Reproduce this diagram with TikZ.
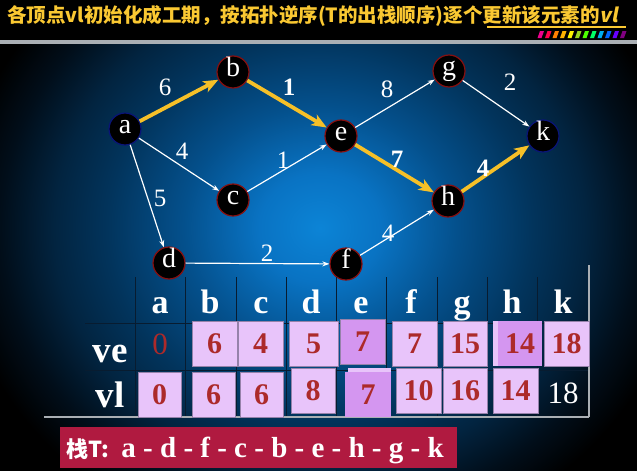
\documentclass[tikz,border=0pt]{standalone}
\usepackage{fontspec}
\setmainfont{Liberation Serif}
\newfontfamily\cjk{Noto Sans CJK SC}
\newfontfamily\cjkslant{Noto Sans CJK SC}[FakeSlant=0.2]
\usetikzlibrary{arrows.meta}
\definecolor{titleyellow}{RGB}{250,200,50}
\definecolor{crityellow}{RGB}{246,192,40}
\definecolor{noderim}{RGB}{135,15,15}
\definecolor{endrim}{RGB}{10,20,120}
\definecolor{cellpink}{RGB}{232,196,250}
\definecolor{cellpurple}{RGB}{212,150,240}
\definecolor{cellrim}{RGB}{150,130,170}
\definecolor{numred}{RGB}{172,42,42}
\definecolor{stackred}{RGB}{176,26,64}
\definecolor{gridline}{RGB}{8,28,48}
\definecolor{rulegray}{RGB}{170,175,180}
\definecolor{bglight}{RGB}{12,132,214}
\definecolor{bgmid}{RGB}{9,115,195}
\definecolor{bgdark}{RGB}{4,80,140}
\definecolor{bgdeep}{RGB}{2,52,92}
\definecolor{bgnavy}{RGB}{2,36,64}
\definecolor{bgedge}{RGB}{1,14,26}
\pgfdeclareradialshading{bgshade}{\pgfpoint{0bp}{0bp}}{color(0bp)=(bglight); color(4bp)=(bgmid); color(9bp)=(bgdark); color(14bp)=(bgdeep); color(17.5bp)=(bgnavy); color(21bp)=(bgedge); color(24bp)=(black); color(50bp)=(black)}
\begin{document}
\begin{tikzpicture}[x=1pt,y=-1pt]
  \useasboundingbox (0,0) rectangle (637,471);
  % background
  \fill[black] (0,0) rectangle (637,471);
  \begin{scope}
    \clip (0,44) rectangle (637,471);
    \shade[shading=bgshade] (320,228) ellipse (380 and 340);
  \end{scope}
  \fill[rulegray] (0,40) rectangle (637,44);
  \foreach \c [count=\i] in {magenta,red!70!magenta,orange,orange!60!yellow,yellow,yellow!60!green,green!70!yellow,green!60!cyan,cyan,blue!60!cyan,blue!60!magenta,violet}
    \fill[\c] ({530+\i*7.5},38) -- ++(2.5,-7) -- ++(4,0) -- ++(-2.5,7) -- cycle;

  % title
  \node[anchor=west, inner sep=0pt, text=titleyellow, font=\cjk\bfseries\fontsize{19.5}{19.5}\selectfont] (title) at (7,16)
    {各顶点vl初始化成工期，按拓扑逆序(T的出栈顺序)逐个更新该元素的{\cjkslant\bfseries vl}};
  \draw[titleyellow, line width=1.5pt] (487,27) -- (626,27);

  % graph
  \begin{scope}[every node/.style={circle,fill=black,draw=noderim,line width=1.2pt,minimum size=32pt,inner sep=0pt,
      text=white,text height=0.82em,text depth=0pt,font=\fontsize{28}{28}\selectfont}]
    \node (a) at (125,129) [draw=endrim] {a};
    \node (b) at (233,72) {b};
    \node (c) at (233,200) {c};
    \node (d) at (169,263) {d};
    \node (e) at (341,136) {e};
    \node (f) at (346,264) {f};
    \node (g) at (449,71) {g};
    \node (h) at (448,201) {h};
    \node (k) at (543,136) [draw=endrim] {k};
  \end{scope}
  \begin{scope}[every edge/.style={draw=white,line width=1.2pt,-{Stealth[length=7pt,width=5pt]}}]
    \path (a) edge (c);
    \path (a) edge (d);
    \path (c) edge (e);
    \path (d) edge (f);
    \path (e) edge (g);
    \path (g) edge (k);
    \path (f) edge (h);
  \end{scope}
  \begin{scope}[every edge/.style={draw=crityellow,line width=3.8pt,-{Stealth[length=15pt,width=12pt,inset=4pt]}}]
    \path (a) edge (b);
    \path (b) edge (e);
    \path (e) edge (h);
    \path (h) edge (k);
  \end{scope}
  \begin{scope}[every node/.style={text=white,inner sep=0pt,font=\fontsize{25}{25}\selectfont}]
    \node (w-ab) at (165,87) {6};
    \node (w-be) at (289,87) {\bfseries 1};
    \node (w-ac) at (182,151) {4};
    \node (w-ad) at (160,198) {5};
    \node (w-ce) at (283,160) {1};
    \node (w-df) at (267,253) {2};
    \node (w-eg) at (387,89) {8};
    \node (w-gk) at (510,82) {2};
    \node (w-eh) at (397,159) {\bfseries 7};
    \node (w-hk) at (483,168) {\bfseries 4};
    \node (w-fh) at (388,233) {4};
  \end{scope}

  % table
  \foreach \x in {135,185,236,286,336,386,437,487,537}
    \draw[gridline, line width=1pt] (\x,277) -- (\x,417);
  \draw[gridline, line width=1pt] (85,323) -- (589,323);
  \draw[gridline, line width=1pt] (85,370) -- (589,370);
  \draw[rulegray, line width=1.5pt] (589,265) -- (589,417);
  \draw[rulegray, line width=1.5pt] (44,417) -- (589,417);
  \begin{scope}[every node/.style={anchor=base,inner sep=0pt,text=white,font=\bfseries\fontsize{34}{34}\selectfont}]
    \node (h-a) at (160,313) {a};
    \node (h-b) at (210,313) {b};
    \node (h-c) at (261,313) {c};
    \node (h-d) at (311,313) {d};
    \node (h-e) at (361,313) {e};
    \node (h-f) at (411,313) {f};
    \node (h-g) at (462,313) {g};
    \node (h-h) at (512,313) {h};
    \node (h-k) at (563,313) {k};
    \node (ve) at (110,362) [font=\bfseries\fontsize{37}{37}\selectfont] {ve};
    \node (vl) at (110,407) [font=\bfseries\fontsize{37}{37}\selectfont] {vl};
  \end{scope}
  \fill[cellpink] (493,321) rectangle (537,366);
  \fill[cellpink] (348,368) rectangle (391,413);
  \begin{scope}[every node/.style={rectangle,fill=cellpink,draw=cellrim,line width=0.6pt,minimum width=45pt,minimum height=45pt,
      inner sep=0pt,text=numred,font=\bfseries\fontsize{30}{30}\selectfont}]
    \node (ve-b) at (214.5,344) {6};
    \node (ve-c) at (260.5,344) {4};
    \node (ve-d) at (313.5,344) [minimum width=49pt] {5};
    \node (ve-e) at (362.5,342) [fill=cellpurple] {7};
    \node (ve-f) at (414.5,343.5) {7};
    \node (ve-g) at (465,343.5) [minimum width=44pt] {15};
    \node (ve-h) at (520,343.5) [fill=cellpurple,draw=none,minimum width=44pt] {14};
    \node (ve-k) at (566.5,343.5) {18};
    \node (vl-a) at (159.5,394.5) [minimum width=43pt] {0};
    \node (vl-b) at (213.5,394.5) [minimum width=43pt] {6};
    \node (vl-c) at (261.5,394.5) [minimum width=43pt] {6};
    \node (vl-d) at (313,390.5) [minimum width=44pt] {8};
    \node (vl-e) at (368,394.5) [fill=cellpurple,draw=none,minimum width=46pt] {7};
    \node (vl-f) at (418.5,390.5) {10};
    \node (vl-g) at (465,390.5) [minimum width=44pt] {16};
    \node (vl-h) at (515.5,390.5) {14};
  \end{scope}
  \node (ve-a) at (160,344) [inner sep=0pt,text=numred,font=\fontsize{31}{31}\selectfont] {0};
  \node (vl-k) at (563,393) [inner sep=0pt,text=white,font=\fontsize{31}{31}\selectfont] {18};

  % stack
  \node (stackbar) at (60,427) [anchor=north west,fill=stackred,minimum width=397pt,minimum height=41pt,inner sep=0pt] {};
  \node (stack) at (66,457) [anchor=base west,inner sep=0pt,text=white,font=\bfseries\fontsize{29}{29}\selectfont]
    {{\cjk\bfseries\fontsize{22}{22}\selectfont 栈T:}\hspace{12pt}a - d - f - c - b - e - h - g - k};
\end{tikzpicture}
\end{document}
